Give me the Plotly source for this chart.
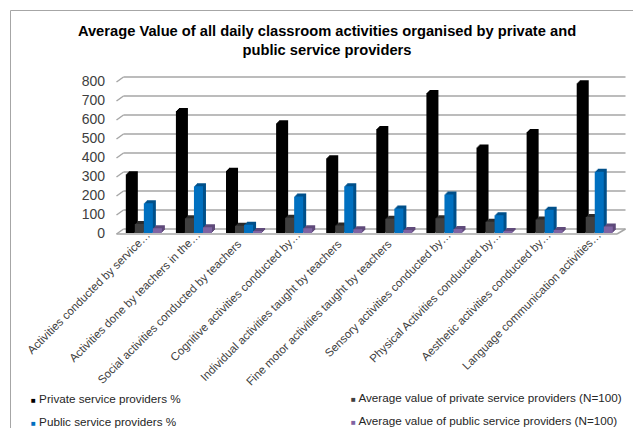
import plotly.graph_objects as go

PAD = "\u00a0" * 4
categories = ["Activities conducted by service…", "Activities done by teachers in the…",
              "Social activities conducted by teachers" + PAD, "Cognitive activities conducted by…",
              "Individual activities taught by teachers" + PAD, "Fine motor activities taught by teachers" + PAD,
              "Sensory activities conducted by…", "Physical Activities conduucted by…",
              "Aesthetic activities conducted by…", "Language communication activities…"]
private_pct = [309, 642, 327, 578, 393, 548, 737, 450, 532, 788]
private_avg = [48, 77, 38, 80, 40, 75, 78, 59, 71, 84]
public_pct = [157, 246, 44, 192, 246, 129, 202, 93, 123, 323]
public_avg = [25, 30, 6, 25, 20, 16, 21, 11, 16, 34]
y_ticks = [0, 100, 200, 300, 400, 500, 600, 700, 800]
series_names = ["Private service providers %", "Average value of private service providers (N=100)",
                "Public service providers %", "Average value of public service providers (N=100)"]
series_values = [private_pct, private_avg, public_pct, public_avg]
front_colors = ["#000000", "#404040", "#0070c0", "#8064a2"]
side_colors = ["#000000", "#2b2b2b", "#00508a", "#5f4a7a"]

W, H = 633, 428
X0, X1, Y0_PX, Y800_PX = 118.8, 619.8, 233.0, 81.0
DEPTH = 3


def xd(px):
    return px / W


def yd(px):
    return 1 - px / H


fig = go.Figure()
layout_axes = {}
# Staircase of darker copies up and to the right gives the 3D side and top faces.
for layer, d in enumerate(range(DEPTH, 0, -1)):
    n = "" if layer == 0 else str(layer + 1)
    for vals, col, name in zip(series_values, side_colors, series_names):
        fig.add_trace(go.Bar(x=categories, y=vals, name=name, marker=dict(color=col, line_width=0),
                             xaxis="x" + n, yaxis="y" + n, showlegend=False, hoverinfo="skip"))
    layout_axes["xaxis" + n] = dict(domain=[xd(X0 + d), xd(X1 + d)], showticklabels=False, showgrid=False,
                                    zeroline=False, showline=False, ticks="", type="category",
                                    automargin=False, anchor="y" + n)
    layout_axes["yaxis" + n] = dict(domain=[yd(Y0_PX - d), yd(Y800_PX - d)], range=[0, 800], showticklabels=False,
                                    showgrid=False, zeroline=False, showline=False, ticks="",
                                    automargin=False, anchor="x" + n)

n = str(DEPTH + 1)
for vals, col, name in zip(series_values, front_colors, series_names):
    fig.add_trace(go.Bar(x=categories, y=vals, name=name, marker=dict(color=col, line_width=0),
                         xaxis="x" + n, yaxis="y" + n, showlegend=False))
layout_axes["xaxis" + n] = dict(domain=[xd(X0), xd(X1)], type="category", anchor="y" + n, automargin=False,
                                tickangle=-45, showgrid=False, zeroline=False, showline=False, ticks="",
                                ticklabelstandoff=-8, ticklabelshift=3,
                                tickfont=dict(family="Liberation Sans", size=11.5, color="#404040"))
layout_axes["yaxis" + n] = dict(domain=[yd(Y0_PX), yd(Y800_PX)], range=[0, 800], anchor="free", position=xd(105),
                                automargin=False,
                                tickvals=y_ticks, showgrid=False, zeroline=False, showline=False, ticks="",
                                tickfont=dict(family="Liberation Sans", size=14, color="#404040"))

# Chart walls: back-wall gridlines, side-wall diagonals and the floor edge.
GRID = "#a6a6a6"
shapes = []
for v in y_ticks:
    fy = Y0_PX + (Y800_PX - Y0_PX) * v / 800
    shapes.append(dict(type="line", xref="paper", yref="paper", x0=xd(123.5), x1=xd(625.5), y0=yd(fy - 4), y1=yd(fy - 4),
                       line=dict(color=GRID, width=1.5), layer="below"))
    shapes.append(dict(type="line", xref="paper", yref="paper", x0=xd(116.5), x1=xd(123.5), y0=yd(fy + 1), y1=yd(fy - 4),
                       line=dict(color=GRID, width=1.5), layer="below"))
shapes += [
    dict(type="line", xref="paper", yref="paper", x0=xd(116.5), x1=xd(617), y0=yd(234), y1=yd(234), line=dict(color=GRID, width=1.5)),
    dict(type="line", xref="paper", yref="paper", x0=xd(617), x1=xd(625.5), y0=yd(234), y1=yd(229), line=dict(color=GRID, width=1.5)),
    dict(type="line", xref="paper", yref="paper", x0=xd(10.5), x1=xd(10.5), y0=0, y1=yd(10.5), line=dict(color=GRID, width=1)),
    dict(type="line", xref="paper", yref="paper", x0=xd(10.5), x1=1, y0=yd(10.5), y1=yd(10.5), line=dict(color=GRID, width=1)),
]

legend_pos = [(29, 398), (349, 397), (29, 421), (349, 420)]
annotations = []
for (lx, ly), name, col in zip(legend_pos, series_names, front_colors):
    annotations.append(dict(xref="paper", yref="paper", x=xd(lx), y=yd(ly), xanchor="left", yanchor="middle",
                            showarrow=False, align="left",
                            text=f"<span style='color:{col};font-size:8px'>■</span> {name}",
                            font=dict(family="Liberation Sans", size=11.7, color="#262626")))

fig.update_layout(
    width=W, height=H, autosize=False, margin=dict(l=0, r=0, t=0, b=0),
    paper_bgcolor="white", plot_bgcolor="rgba(0,0,0,0)", barmode="group", bargap=0.28, bargroupgap=0,
    showlegend=False, shapes=shapes, annotations=annotations,
    title=dict(text="<b>Average Value of all daily classroom activities organised by private and<br>public service providers</b>",
               x=327 / W, xanchor="center", y=1 - 36 / H, yanchor="middle",
               font=dict(family="Liberation Sans", size=14.7, color="#000000")),
    **layout_axes,
)
fig.write_html("out.html", config={"displayModeBar": False},
               post_script="document.body.style.margin='0';document.documentElement.style.overflow='hidden';")
